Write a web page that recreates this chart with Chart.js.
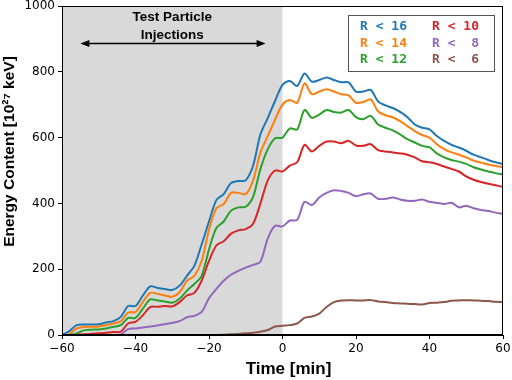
<!DOCTYPE html>
<html>
<head>
<meta charset="utf-8">
<script src="https://cdn.jsdelivr.net/npm/chart.js@4"></script>
<style>
  html, body { margin: 0; padding: 0; background: #fff; }
  #wrap { width: 512px; height: 380px; }
</style>
</head>
<body>
<div id="wrap"><canvas id="grafica" width="512" height="380"></canvas></div>
<script>
// Time axis [min], every 2 min
var time = [-60,-58,-56,-54,-52,-50,-48,-46,-44,-42,-40,-38,-36,-34,-32,-30,-28,-26,-24,-22,-20,
  -18,-16,-14,-12,-10,-8,-6,-4,-2,0,2,4,6,8,10,12,14,16,18,20,22,24,26,28,30,32,34,36,38,40,
  42,44,46,48,50,52,54,56,58,60];

var labels = ["R < 16", "R < 14", "R < 12", "R < 10", "R <  8", "R <  6"];
var xTitle = "Time [min]";
var yTitle = "Energy Content [10\u00b2\u2077 keV]";

// Energy content [10^27 keV]
var r16 = [0,12,30,32,32,33,38,42,55,88,88,120,148,143,140,137,150,180,210,275,345,
  410,428,462,468,470,515,610,660,712,760,772,757,795,770,775,783,775,768,768,740,
  740,745,710,698,690,678,662,640,630,625,605,590,578,570,560,548,540,532,525,520];
var r14 = [0,2,20,24,25,26,30,35,42,68,70,100,128,125,120,116,130,165,180,225,320,
  385,398,432,432,428,470,555,605,655,700,714,706,765,732,740,747,740,732,728,706,
  708,716,680,668,662,650,635,620,608,600,580,565,555,548,540,530,524,518,514,510];
var r12 = [0,0,5,14,16,17,20,25,30,52,52,80,108,105,102,98,110,135,155,180,260,
  325,345,378,388,390,420,505,565,598,600,628,625,684,660,670,684,678,676,684,662,
  656,666,640,630,622,610,595,585,575,570,552,540,532,527,520,510,503,497,492,488];
var r10 = [0,0,0,2,4,5,7,9,10,35,40,60,85,86,88,87,100,120,128,165,225,
  272,285,308,318,322,338,400,470,500,497,515,525,578,558,575,588,588,583,590,576,
  575,580,562,558,555,552,548,540,528,525,520,512,505,497,482,472,465,460,455,450];
var r8 = [0,0,0,0,0,0,0,0,2,18,20,23,26,29,33,37,42,54,58,70,112,
  140,165,183,195,205,213,223,294,332,330,348,350,405,395,418,432,440,438,432,422,
  428,430,414,414,418,412,408,408,412,405,402,398,402,388,393,385,380,377,372,368];
var r6 = [0,0,0,0,0,0,0,0,0,0,0,0,0,0,0,0,0,0,0,0,0,
  0,1,2,3,5,7,10,15,26,28,30,35,52,56,65,85,100,105,106,105,
  105,106,102,100,97,96,95,94,93,97,98,100,104,105,106,105,104,103,101,100];

var series = [r16, r14, r12, r10, r8, r6];
var colors = ["#1f77b4", "#ff7f0e", "#2ca02c", "#d62728", "#9467bd", "#8c564b"];

// injection window and arrow annotation
var injStart = -60, injEnd = 0;
var arrowFrom = -55, arrowTo = -4.6, arrowLevel = 887;
var noteLines = ["Test Particle", "Injections"];
var noteCenter = -30;

var datasets = series.map(function (s, i) {
  return {
    label: labels[i],
    data: s.map(function (v, k) { return { x: time[k], y: v }; }),
    borderColor: colors[i],
    backgroundColor: colors[i],
    borderWidth: 2,
    pointRadius: 0,
    tension: 0.3,
    fill: false,
    order: 6 - i
  };
});

var shade = {
  id: "shade",
  beforeDatasetsDraw: function (chart) {
    var c = chart.ctx, a = chart.chartArea, x = chart.scales.x;
    var x0 = x.getPixelForValue(injStart), x1 = x.getPixelForValue(injEnd);
    c.save();
    c.fillStyle = "#d9d9d9";
    c.fillRect(x0, a.top, x1 - x0, a.bottom - a.top);
    c.restore();
  }
};

var extras = {
  id: "extras",
  afterDraw: function (chart) {
    var c = chart.ctx, a = chart.chartArea, x = chart.scales.x, y = chart.scales.y;
    c.save();

    // arrow
    var ax0 = x.getPixelForValue(arrowFrom), ax1 = x.getPixelForValue(arrowTo);
    var ay = Math.round(y.getPixelForValue(arrowLevel)) + 0.5;
    c.strokeStyle = "#000"; c.fillStyle = "#000"; c.lineWidth = 1.5;
    c.beginPath(); c.moveTo(ax0 + 4, ay); c.lineTo(ax1 - 4, ay); c.stroke();
    c.beginPath(); c.moveTo(ax0, ay); c.lineTo(ax0 + 9, ay - 3.5); c.lineTo(ax0 + 9, ay + 3.5); c.closePath(); c.fill();
    c.beginPath(); c.moveTo(ax1, ay); c.lineTo(ax1 - 9, ay - 3.5); c.lineTo(ax1 - 9, ay + 3.5); c.closePath(); c.fill();

    // note text
    var nx = x.getPixelForValue(noteCenter);
    c.font = "bold 13.5px 'Liberation Sans', Arial, sans-serif";
    c.textAlign = "center"; c.textBaseline = "middle";
    c.fillText(noteLines[0], nx, ay - 26);
    c.fillText(noteLines[1], nx, ay - 8);

    // legend box
    var bx = a.right - 155, by = a.top + 9, bw = 146, bh = 56;
    c.fillStyle = "#fff";
    c.fillRect(bx, by, bw, bh);
    c.strokeStyle = "#555"; c.lineWidth = 1;
    c.strokeRect(Math.round(bx) + 0.5, Math.round(by) + 0.5, bw, bh);
    c.font = "bold 13px 'DejaVu Sans Mono', monospace";
    c.textAlign = "left"; c.textBaseline = "middle";
    for (var i = 0; i < labels.length; i++) {
      var col = Math.floor(i / 3), row = i % 3;
      c.fillStyle = colors[i];
      c.fillText(labels[i], bx + 12 + col * 72, by + 12 + row * 16.5);
    }

    // frame
    c.strokeStyle = "#000"; c.lineWidth = 1;
    c.strokeRect(Math.round(a.left) + 0.5, Math.round(a.top) + 0.5,
      Math.round(a.right - a.left) - 1, Math.round(a.bottom - a.top) - 1);

    // axis titles
    c.fillStyle = "#000";
    c.textAlign = "center"; c.textBaseline = "middle";
    c.font = "bold 17px 'Liberation Sans', Arial, sans-serif";
    c.fillText(xTitle, (a.left + a.right) / 2 + 6, a.bottom + 34);
    c.save();
    c.translate(10, (a.top + a.bottom) / 2 - 19);
    c.rotate(-Math.PI / 2);
    c.font = "bold 15.5px 'Liberation Sans', Arial, sans-serif";
    c.fillText(yTitle, 0, 0);
    c.restore();

    c.restore();
  }
};

var ctx = document.getElementById("grafica").getContext("2d");

var myChart = new Chart(ctx, {
  type: "line",
  data: { datasets: datasets },
  options: {
    responsive: false,
    animation: false,
    events: [],
    layout: { padding: { top: 6, right: 9, left: 0, bottom: 0 } },
    plugins: { legend: { display: false }, tooltip: { enabled: false } },
    scales: {
      x: {
        type: "linear",
        min: -60, max: 60,
        afterFit: function (s) { s.height = 45; s.paddingLeft = 0; s.paddingRight = 0; },
        grid: { display: true, drawOnChartArea: false, drawTicks: true, tickLength: 4, color: "#000" },
        border: { display: true, color: "#000", width: 1 },
        ticks: {
          stepSize: 20, padding: 3, color: "#000",
          font: { family: "'DejaVu Sans', sans-serif", size: 12 },
          callback: function (v) { return v < 0 ? "\u2212" + Math.abs(v) : "" + v; }
        }
      },
      y: {
        min: 0, max: 1000,
        afterFit: function (s) { s.width = 62; s.paddingTop = 0; s.paddingBottom = 0; },
        grid: { display: true, drawOnChartArea: false, drawTicks: true, tickLength: 4, color: "#000" },
        border: { display: true, color: "#000", width: 1 },
        ticks: {
          stepSize: 200, padding: 3, color: "#000",
          font: { family: "'DejaVu Sans', sans-serif", size: 12 },
          callback: function (v) { return "" + v; }
        }
      }
    }
  },
  plugins: [shade, extras]
});
</script>
</body>
</html>
